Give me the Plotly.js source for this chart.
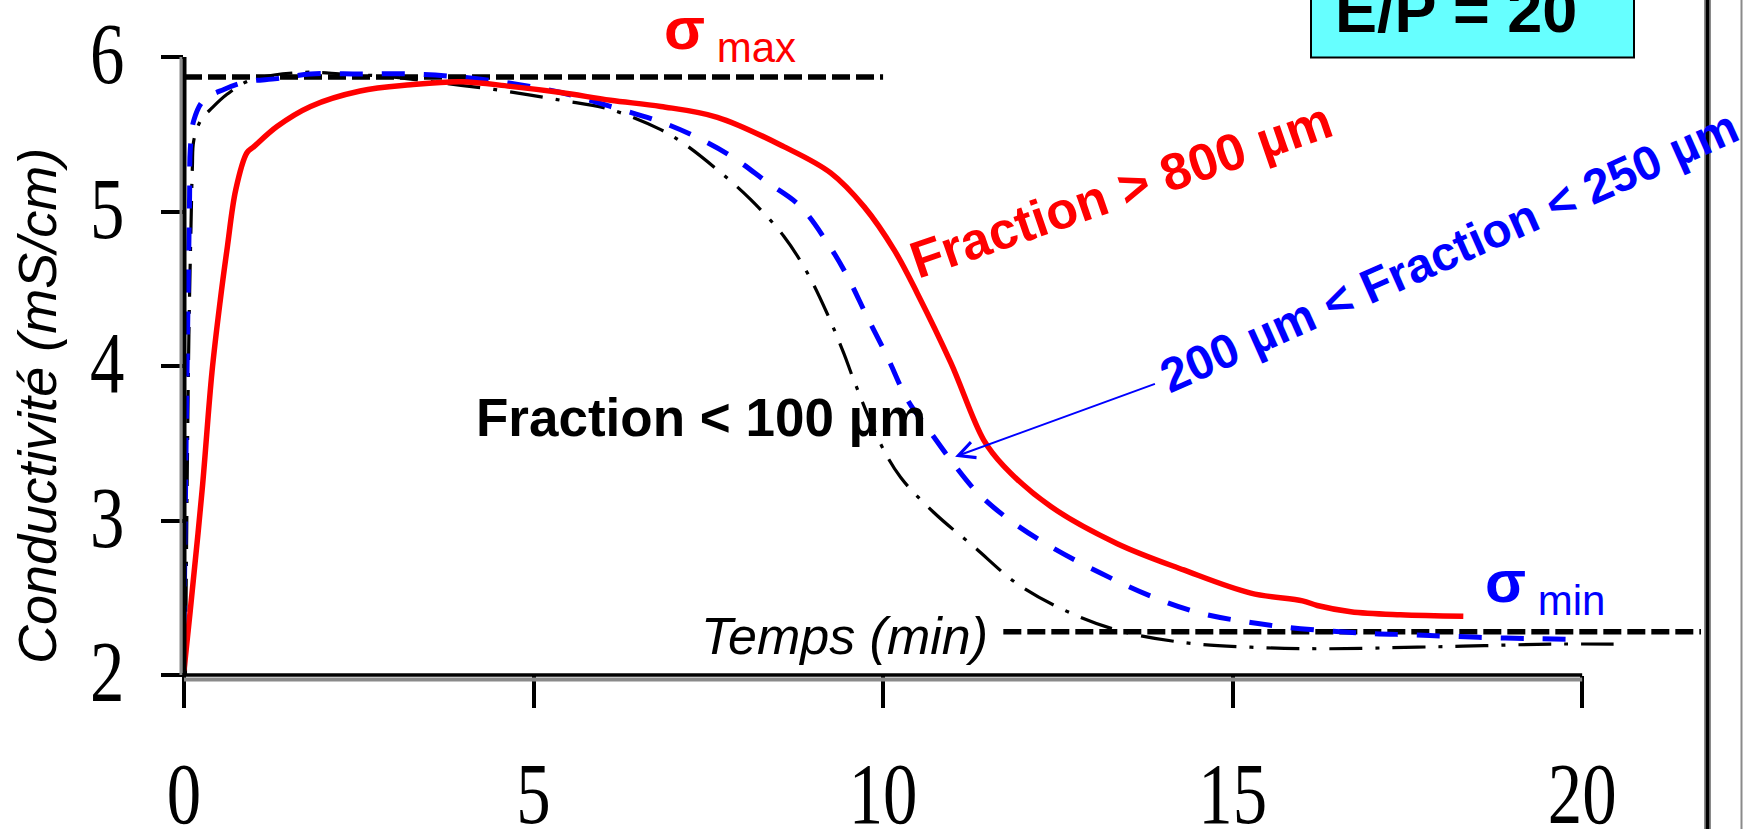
<!DOCTYPE html>
<html><head><meta charset="utf-8">
<script src="https://cdn.plot.ly/plotly-3.0.1.min.js"></script>
<style>html,body{margin:0;padding:0;background:#fff;}</style>
</head><body>
<div id="chart" style="width:1746px;height:829px;"></div>
<script>
// ---- data (time in min, conductivity in mS/cm) ----
const timeLarge = [0, 0.09, 0.26, 0.40, 0.52, 0.62, 0.74, 0.90, 1.0, 1.33, 1.81, 2.52, 3.24, 3.96, 4.67, 5.39, 6.10, 6.82, 7.63, 8.58, 9.25, 9.73, 10.16, 10.49, 10.97, 11.44, 11.73, 12.40, 13.35, 14.30, 15.26, 16.0, 16.21, 16.69, 17.40, 18.30];
const condLarge = [2.03, 2.42, 3.20, 3.96, 4.43, 4.77, 5.14, 5.38, 5.42, 5.55, 5.68, 5.78, 5.82, 5.84, 5.81, 5.77, 5.72, 5.68, 5.61, 5.42, 5.25, 5.03, 4.75, 4.47, 4.02, 3.52, 3.35, 3.09, 2.85, 2.68, 2.53, 2.48, 2.45, 2.41, 2.39, 2.38];

const timeMid = [0, 0.03, 0.06, 0.08, 0.09, 0.14, 0.28, 0.57, 0.90, 1.33, 1.81, 2.52, 3.24, 3.96, 4.67, 5.39, 6.10, 6.82, 7.29, 7.82, 8.34, 8.80, 9.20, 9.49, 9.77, 10.06, 10.35, 10.68, 10.97, 11.35, 11.82, 12.40, 13.11, 13.83, 14.54, 15.26, 15.97, 16.93, 17.55, 18.16, 18.79, 19.41, 20.0];
const condMid = [2.30, 3.50, 4.50, 5.10, 5.40, 5.59, 5.72, 5.79, 5.84, 5.86, 5.89, 5.89, 5.89, 5.87, 5.83, 5.77, 5.68, 5.58, 5.49, 5.36, 5.19, 5.04, 4.80, 4.58, 4.32, 4.06, 3.78, 3.57, 3.39, 3.18, 3.00, 2.83, 2.66, 2.51, 2.40, 2.34, 2.30, 2.27, 2.26, 2.25, 2.24, 2.235, 2.23];

const timeFine = [0.02, 0.04, 0.07, 0.10, 0.12, 0.14, 0.24, 0.40, 0.62, 0.95, 1.67, 2.29, 3.0, 3.72, 4.43, 5.39, 6.10, 6.82, 7.15, 7.63, 8.10, 8.58, 8.92, 9.20, 9.44, 9.58, 9.96, 10.25, 10.73, 11.30, 11.92, 12.59, 13.35, 14.30, 15.26, 16.21, 17.64, 18.60, 19.55, 20.45];
const condFine = [2.00, 3.00, 4.20, 4.90, 5.29, 5.46, 5.59, 5.67, 5.76, 5.85, 5.90, 5.89, 5.87, 5.83, 5.79, 5.72, 5.66, 5.53, 5.44, 5.27, 5.08, 4.84, 4.60, 4.34, 4.08, 3.91, 3.50, 3.28, 3.05, 2.83, 2.59, 2.42, 2.29, 2.21, 2.18, 2.17, 2.18, 2.19, 2.20, 2.20];

const sigmaMaxT = [0, 10];
const sigmaMaxV = [5.87, 5.87];
const sigmaMinT = [11.72, 21.7];
const sigmaMinV = [2.28, 2.28];

const xTickVals = [0, 5, 10, 15, 20];
const yTickVals = [2, 3, 4, 5, 6];

const labelLarge = '<b>Fraction &gt; 800 µm</b>';
const labelMid = '<b>200 µm &lt; Fraction &lt; 250 µm</b>';
const labelFine = '<b>Fraction &lt; 100 µm</b>';
const xTitle = '<i>Temps (min)</i>';
const yTitle = '<i>Conductivité (mS/cm)</i>';
const ratioLabel = '<b>E/P = 20</b>';

// ---- layout helpers ----
const xRange = [0, 21.8];
const yRange = [2, 6];
const xp = v => (v - xRange[0]) / (xRange[1] - xRange[0]);
const yp = v => (v - yRange[0]) / (yRange[1] - yRange[0]);
const plotW = 1524, plotH = 618;
const sans = 'Liberation Sans, Arial, sans-serif';

const traces = [
  {x: sigmaMaxT, y: sigmaMaxV, mode: 'lines', line: {color: 'black', width: 5.5, dash: '18px,6px'}, hoverinfo: 'skip'},
  {x: sigmaMinT, y: sigmaMinV, mode: 'lines', line: {color: 'black', width: 5.5, dash: '18px,6px'}, hoverinfo: 'skip'},
  {x: timeFine, y: condFine, mode: 'lines', name: 'Fraction < 100 µm',
   line: {color: 'black', width: 3.2, dash: '33px,13px,4px,13px', shape: 'spline', smoothing: 1}},
  {x: timeMid, y: condMid, mode: 'lines', name: '200 µm < Fraction < 250 µm',
   line: {color: '#0000FF', width: 5, dash: '23px,19px', shape: 'spline', smoothing: 1}},
  {x: timeLarge, y: condLarge, mode: 'lines', name: 'Fraction > 800 µm',
   line: {color: '#FF0000', width: 5.5, shape: 'spline', smoothing: 1}}
];

const tickFont = {family: 'Liberation Serif, Times New Roman, serif', size: 86, color: 'black'};

function ann(o) { return Object.assign({showarrow: false, xanchor: 'center', yanchor: 'middle'}, o); }

const layout = {
  width: 1746, height: 829,
  margin: {l: 184, r: 38, t: 57, b: 154, pad: 0},
  paper_bgcolor: 'white', plot_bgcolor: 'white',
  showlegend: false,
  xaxis: {range: xRange, tickvals: xTickVals, ticks: 'outside', ticklen: 32, tickwidth: 4, tickcolor: 'black',
          showgrid: false, zeroline: false, showline: false, tickfont: tickFont, ticklabelstandoff: 12, fixedrange: true},
  yaxis: {range: yRange, tickvals: yTickVals, ticks: 'outside', ticklen: 22, tickwidth: 4, tickcolor: 'black',
          showgrid: false, zeroline: false, showline: false, tickfont: tickFont, ticklabelstandoff: 15, fixedrange: true},
  shapes: [
    // x axis line (0 to 20) with grey shadow
    {type: 'line', xref: 'paper', yref: 'paper', x0: xp(0), x1: xp(20), y0: -4.5 / plotH, y1: -4.5 / plotH, line: {color: '#8a8a8a', width: 4}},
    {type: 'line', xref: 'paper', yref: 'paper', x0: xp(0) - 2 / plotW, x1: xp(20), y0: 0, y1: 0, line: {color: 'black', width: 3.5}},
    // y axis line with grey shadow
    {type: 'line', xref: 'paper', yref: 'paper', x0: -3 / plotW, x1: -3 / plotW, y0: yp(2), y1: yp(6), line: {color: '#8a8a8a', width: 3}},
    {type: 'line', xref: 'paper', yref: 'paper', x0: 0.5 / plotW, x1: 0.5 / plotW, y0: yp(2), y1: yp(6), line: {color: 'black', width: 4}},
    // right frame lines
    {type: 'line', xref: 'paper', yref: 'paper', x0: 1523.5 / plotW, x1: 1523.5 / plotW, y0: -0.4, y1: 1.2, line: {color: '#8a8a8a', width: 7}},
    {type: 'line', xref: 'paper', yref: 'paper', x0: 1523.5 / plotW, x1: 1523.5 / plotW, y0: -0.4, y1: 1.2, line: {color: 'black', width: 3.5}},
    {type: 'line', xref: 'paper', yref: 'paper', x0: 1557.5 / plotW, x1: 1557.5 / plotW, y0: -0.4, y1: 1.2, line: {color: '#8a8a8a', width: 2}},
    // E/P box
    {type: 'rect', xref: 'paper', yref: 'paper', x0: 1127 / plotW, x1: 1450 / plotW, y0: 617.5 / plotH, y1: 705 / plotH,
     fillcolor: '#66FFFF', line: {color: 'black', width: 2}}
  ],
  annotations: [
    ann({xref: 'paper', yref: 'paper', x: xp(7.817), y: yp(6.158), text: '<b>σ</b><sub> max</sub>',
     font: {family: sans, size: 60, color: '#FF0000'}}),
    ann({xref: 'x', yref: 'y', x: 19.475, y: 2.579, text: '<b>σ</b><sub> min</sub>',
     font: {family: sans, size: 60, color: '#0000FF'}}),
    ann({xref: 'x', yref: 'y', x: 7.395, y: 3.667, text: labelFine,
     font: {family: sans, size: 53, color: 'black'}}),
    ann({xref: 'x', yref: 'y', x: 13.40, y: 5.139, text: labelLarge, textangle: -19,
     font: {family: sans, size: 52, color: '#FF0000'}}),
    ann({xref: 'x', yref: 'y', x: 18.09, y: 4.743, text: labelMid, textangle: -24,
     font: {family: sans, size: 48, color: '#0000FF'}}),
    {xref: 'x', yref: 'y', x: 11.03, y: 3.413, axref: 'x', ayref: 'y', ax: 13.91, ay: 3.888, text: '',
     showarrow: true, arrowhead: 5, arrowsize: 1.6, arrowwidth: 2, arrowcolor: '#0000FF'},
    ann({xref: 'x', yref: 'y', x: 9.448, y: 2.252, text: xTitle,
     font: {family: sans, size: 52, color: 'black'}}),
    ann({xref: 'paper', yref: 'paper', x: -147 / plotW, y: 269 / plotH, text: yTitle, textangle: -90,
     font: {family: sans, size: 54, color: 'black'}}),
    ann({xref: 'paper', yref: 'paper', x: 1271.5 / plotW, y: 664.5 / plotH, text: ratioLabel,
     font: {family: sans, size: 63, color: 'black'}})
  ]
};

Plotly.newPlot('chart', traces, layout, {staticPlot: true, displayModeBar: false}).then(gd => {
  // serif tick digits in the original are narrow: compress them horizontally
  const sx = 0.8;
  gd.querySelectorAll('.xtick text, .ytick text').forEach(t => {
    const b = t.getBBox();
    const cx = b.x + b.width / 2, cy = b.y + b.height / 2;
    const dy = t.closest('.ytick') ? -4 : 0;
    const base = t.getAttribute('transform') || '';
    t.setAttribute('transform', base + ` translate(${cx},${cy + dy}) scale(${sx},1) translate(${-cx},${-cy})`);
  });
});
</script>
</body></html>
